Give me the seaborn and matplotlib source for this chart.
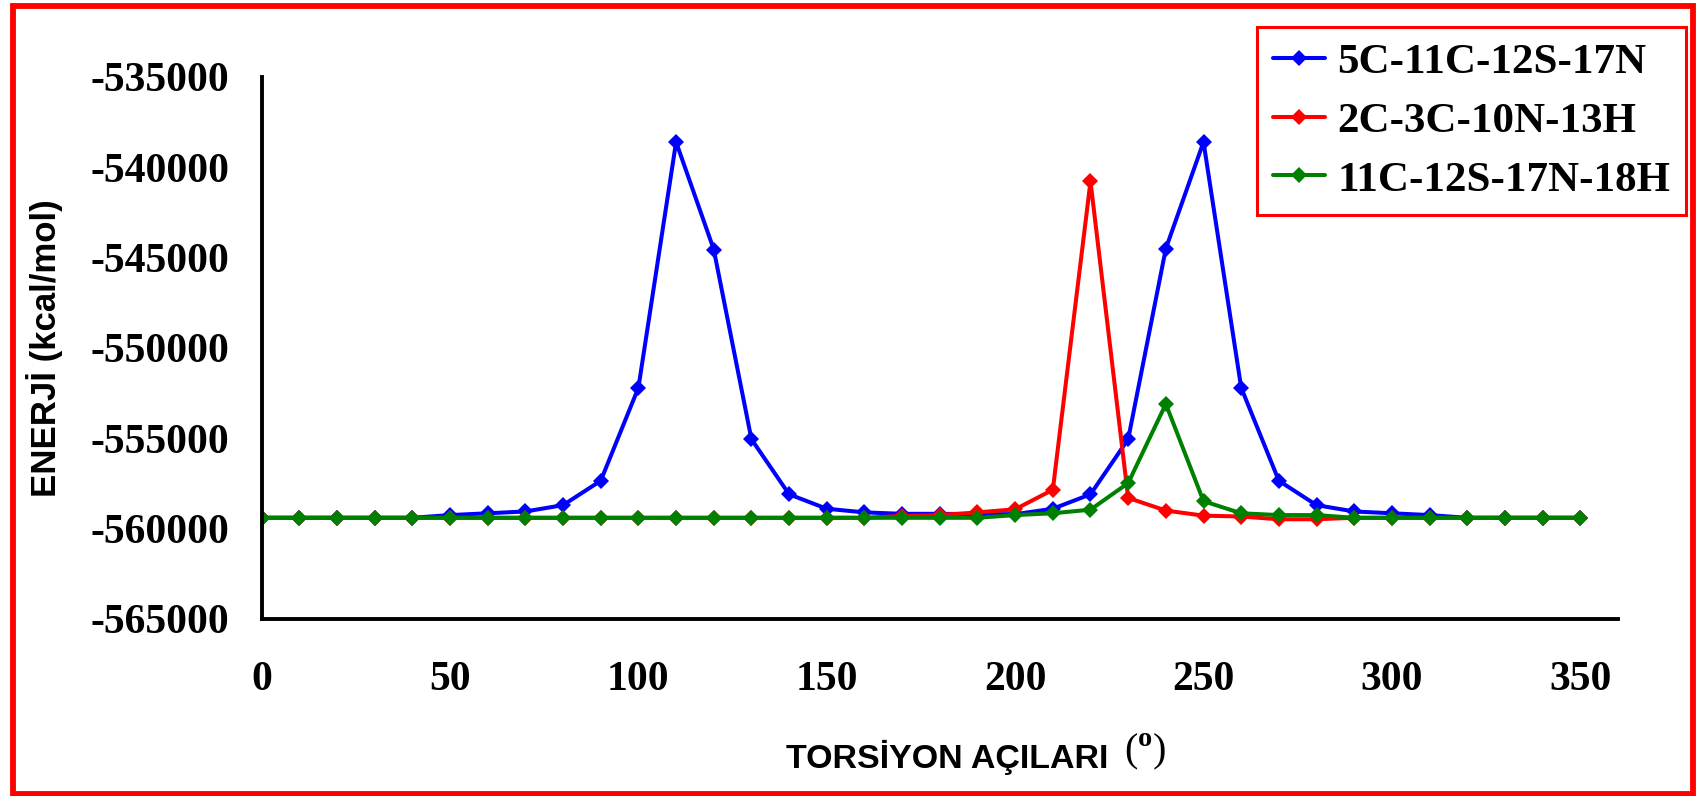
import matplotlib
matplotlib.use("Agg")
import matplotlib.pyplot as plt
import matplotlib.patches as patches
from matplotlib.ticker import FuncFormatter
import pandas as pd
import seaborn as sns

# torsion angles (degrees)
angles = [0, 10, 20, 30, 40, 50, 60, 70, 80, 90, 100, 110, 120, 130, 140, 150, 160, 170,
          180, 190, 200, 210, 220, 230, 240, 250, 260, 270, 280, 290, 300, 310, 320, 330, 340, 350]

# energies (kcal/mol)
e_5c_11c_12s_17n = [-559400, -559400, -559400, -559400, -559400, -559250, -559150, -559050,
                    -558700, -557350, -552200, -538600, -544550, -555050, -558100, -558900,
                    -559100, -559180, -559180, -559200, -559200, -558900, -558100, -555050,
                    -544500, -538600, -552200, -557350, -558700, -559050, -559150, -559250,
                    -559400, -559400, -559400, -559400]
e_2c_3c_10n_13h = [-559400, -559400, -559400, -559400, -559400, -559400, -559400, -559400,
                   -559400, -559400, -559400, -559400, -559400, -559400, -559400, -559400,
                   -559400, -559300, -559250, -559100, -558930, -557850, -540780, -558300,
                   -559000, -559280, -559330, -559480, -559480, -559400, -559400, -559400,
                   -559400, -559400, -559400, -559400]
e_11c_12s_17n_18h = [-559400, -559400, -559400, -559400, -559400, -559400, -559400, -559400,
                     -559400, -559400, -559400, -559400, -559400, -559400, -559400, -559400,
                     -559400, -559400, -559400, -559400, -559250, -559150, -558950, -557480,
                     -553100, -558480, -559150, -559250, -559250, -559400, -559400, -559400,
                     -559400, -559400, -559400, -559400]

series_names = ["5C-11C-12S-17N", "2C-3C-10N-13H", "11C-12S-17N-18H"]
series_colors = ["#0000FF", "#FF0000", "#008000"]

x_ticks = [0, 50, 100, 150, 200, 250, 300, 350]
y_ticks = [-565000, -560000, -555000, -550000, -545000, -540000, -535000]

frames = []
for name, vals in zip(series_names, [e_5c_11c_12s_17n, e_2c_3c_10n_13h, e_11c_12s_17n_18h]):
    frames.append(pd.DataFrame({"angle": angles, "energy": vals, "series": name}))
df = pd.concat(frames, ignore_index=True)

sns.set_style("white")
plt.rcParams["axes.unicode_minus"] = False
plt.rcParams["text.color"] = "black"
plt.rcParams["axes.labelcolor"] = "black"
plt.rcParams["xtick.color"] = "black"
plt.rcParams["ytick.color"] = "black"
plt.rcParams["mathtext.fontset"] = "custom"
plt.rcParams["mathtext.rm"] = "Liberation Serif"
plt.rcParams["mathtext.bf"] = "Liberation Serif:bold"

fig = plt.figure(figsize=(16.97, 7.96), dpi=100)
ax = fig.add_axes([0.1542, 0.2224, 0.7992, 0.6809])

sns.lineplot(data=df, x="angle", y="energy", hue="series", hue_order=series_names,
             palette=series_colors, marker="D", markersize=8, markeredgewidth=0,
             linewidth=2.9, errorbar=None, sort=False, legend=False, ax=ax)

ax.set_xlim(0, 360)
ax.set_ylim(-565000, -535000)
ax.set_xticks(x_ticks)
ax.set_yticks(y_ticks)
ax.yaxis.set_major_formatter(FuncFormatter(lambda v, pos: "%d" % round(v)))

for side in ["top", "right"]:
    ax.spines[side].set_visible(False)
for side in ["left", "bottom"]:
    ax.spines[side].set_linewidth(2.8)
    ax.spines[side].set_color("black")

ax.tick_params(axis="both", direction="out", length=10, width=2.2, color="black",
               labelcolor="black")
ax.tick_params(axis="x", pad=20)
ax.tick_params(axis="y", pad=13)
for lab in ax.get_xticklabels() + ax.get_yticklabels():
    lab.set_fontfamily("Liberation Serif")
    lab.set_fontweight("bold")
    lab.set_fontsize(30)

ax.set_xlabel("TORSİYON AÇILARI", fontfamily="Liberation Sans", fontweight="bold",
              fontsize=24.5, color="black")
ax.xaxis.label.set_va("baseline")
ax.xaxis.set_label_coords(0.5055, -0.2749)
fig.text(0.6625, 1 - 761 / 796, r"($^{\mathbf{o}}$)", fontfamily="Liberation Serif",
         fontsize=29, va="baseline", ha="left", color="black")

ax.set_ylabel("ENERJİ (kcal/mol)", fontfamily="Liberation Sans", fontweight="bold",
              fontsize=25, color="black")
ax.yaxis.label.set_va("center")
ax.yaxis.set_label_coords(-0.1600, 0.500)

leg = fig.legend(handles=ax.lines[:3], labels=series_names, loc="upper right",
                 bbox_to_anchor=(1686 / 1697, 1 - 27 / 796), numpoints=1,
                 prop={"family": "Liberation Serif", "weight": "bold", "size": 31},
                 frameon=True, fancybox=False, shadow=False, framealpha=1,
                 handlelength=1.2, handletextpad=0.3, labelspacing=0.46,
                 borderpad=0.36, borderaxespad=0)
leg.get_frame().set_edgecolor("#FF0000")
leg.get_frame().set_linewidth(2.2)
for t in leg.get_texts():
    t.set_color("black")

border = patches.Rectangle((13 / 1697, 2.5 / 796), (1693 - 13) / 1697, (790.5 - 2.5) / 796,
                           transform=fig.transFigure, fill=False, edgecolor="#FF0000",
                           linewidth=4.2, zorder=10)
fig.patches.append(border)

fig.savefig("out.png", dpi=100)
